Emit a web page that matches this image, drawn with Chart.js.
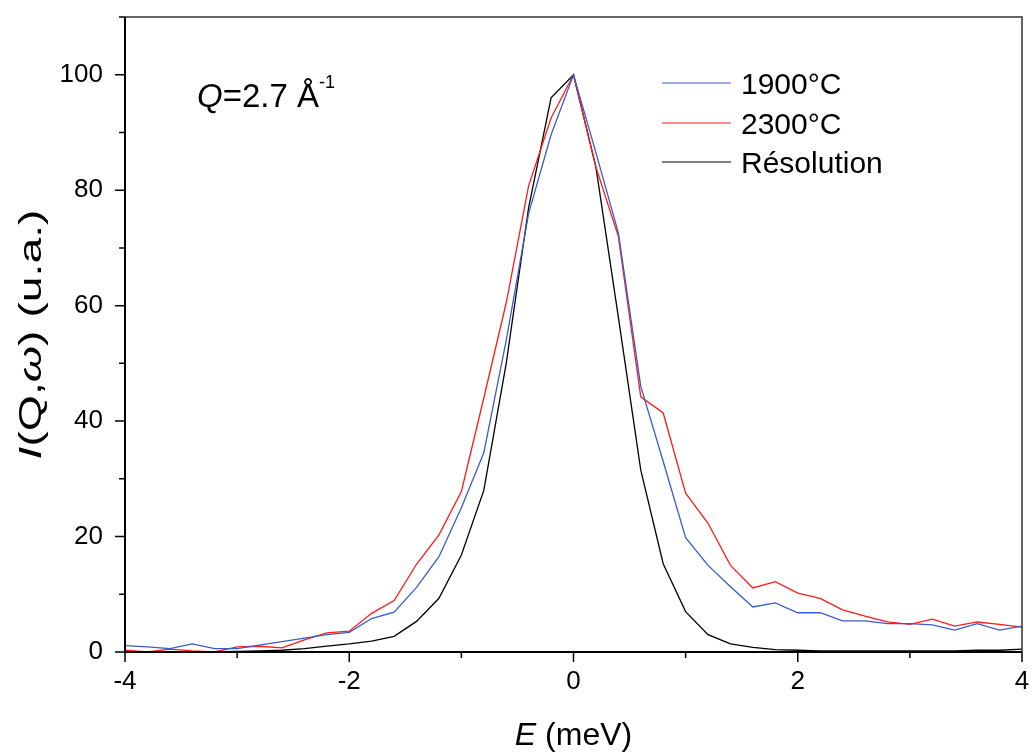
<!DOCTYPE html>
<html>
<head>
<meta charset="utf-8">
<script src="https://cdn.jsdelivr.net/npm/chart.js@4.4.1/dist/chart.umd.min.js"></script>
<style>
  html, body { margin: 0; padding: 0; background: #fff; }
  #wrap { width: 1032px; height: 752px; position: relative; }
</style>
</head>
<body>
<div id="wrap"><canvas id="chart" width="1032" height="752"></canvas></div>
<script>
// energie (meV)
const energy = [
  -4.0, -3.8, -3.6, -3.4, -3.2, -3.0, -2.8, -2.6, -2.4, -2.2,
  -2.0, -1.8, -1.6, -1.4, -1.2, -1.0, -0.8, -0.6, -0.4, -0.2,
  0.0, 0.2, 0.4, 0.6, 0.8, 1.0, 1.2, 1.4, 1.6, 1.8,
  2.0, 2.2, 2.4, 2.6, 2.8, 3.0, 3.2, 3.4, 3.6, 3.8, 4.0
];

// intensites
const i1900 = [
  1.1, 0.9, 0.6, 1.4, 0.6, 0.6, 1.2, 1.8, 2.4, 3.0,
  3.4, 5.8, 6.9, 11.2, 16.5, 25.0, 34.5, 54.0, 76.0, 89.6,
  100, 86.5, 72.6, 46.0, 33.0, 19.8, 15.0, 11.3, 7.8, 8.5,
  6.8, 6.8, 5.4, 5.4, 4.9, 4.9, 4.7, 3.8, 4.9, 3.8, 4.5
];
const i2300 = [
  0.3, 0.0, 0.5, 0.2, 0.0, 0.9, 1.0, 0.7, 2.1, 3.3,
  3.6, 6.7, 8.9, 15.2, 20.3, 27.8, 44.0, 60.5, 80.8, 92.5,
  100, 84.0, 72.0, 44.2, 41.4, 27.5, 22.3, 15.0, 11.1, 12.2,
  10.2, 9.3, 7.3, 6.2, 5.2, 4.8, 5.7, 4.5, 5.2, 4.8, 4.3
];
const resolution = [
  0.0, 0.0, 0.0, 0.0, 0.0, 0.1, 0.2, 0.3, 0.6, 1.0,
  1.4, 1.9, 2.7, 5.3, 9.3, 16.8, 28.0, 50.0, 77.0, 96.0,
  100, 84.0, 58.0, 31.5, 15.3, 7.0, 3.0, 1.4, 0.8, 0.4,
  0.3, 0.2, 0.2, 0.2, 0.2, 0.2, 0.2, 0.2, 0.3, 0.3, 0.5
];

const seriesLabels = ['1900°C', '2300°C', 'Résolution'];
const seriesColors = ['#3a5cc8', '#ff1a1a', '#000000'];

const FONT = "'Liberation Sans', Arial, sans-serif";

function toPoints(vals) {
  return energy.map((e, i) => ({ x: e, y: vals[i] }));
}

// cadre, graduations, legende, annotations
const decorPlugin = {
  id: 'decor',
  afterDraw(chart) {
    const { ctx, chartArea: a, scales } = chart;
    const xs = scales.x, ys = scales.y;
    ctx.save();

    // cadre
    ctx.strokeStyle = '#333';
    ctx.lineWidth = 1.5;
    ctx.beginPath();
    ctx.moveTo(a.left, a.top);
    ctx.lineTo(a.right, a.top);
    ctx.lineTo(a.right, a.bottom);
    ctx.stroke();
    ctx.strokeStyle = '#000';
    ctx.lineWidth = 2;
    ctx.beginPath();
    ctx.moveTo(a.left, a.top);
    ctx.lineTo(a.left, a.bottom);
    ctx.lineTo(a.right, a.bottom);
    ctx.stroke();

    // graduations (majeures / mineures)
    ctx.lineWidth = 1.5;
    ctx.beginPath();
    xs.ticks.forEach(t => {
      const px = xs.getPixelForValue(t.value);
      const len = (Math.round(t.value) % 2 === 0) ? 10 : 6;
      ctx.moveTo(px, a.bottom);
      ctx.lineTo(px, a.bottom + len);
    });
    ys.ticks.forEach(t => {
      const py = ys.getPixelForValue(t.value);
      const len = (Math.round(t.value) % 20 === 0) ? 10 : 6;
      ctx.moveTo(a.left, py);
      ctx.lineTo(a.left - len, py);
    });
    ctx.stroke();

    // legende
    ctx.lineWidth = 1.2;
    ctx.font = '30px ' + FONT;
    ctx.fillStyle = '#000';
    ctx.textAlign = 'left';
    ctx.textBaseline = 'alphabetic';
    const legY = [83, 123, 162];
    seriesLabels.forEach((lab, i) => {
      ctx.strokeStyle = seriesColors[i];
      ctx.beginPath();
      ctx.moveTo(662, legY[i]);
      ctx.lineTo(731, legY[i]);
      ctx.stroke();
      ctx.fillText(lab, 741, legY[i] + 11);
    });

    // annotation Q
    let x = 197;
    const by = 107;
    ctx.font = 'italic 33px ' + FONT;
    ctx.fillText('Q', x, by);
    x += ctx.measureText('Q').width;
    ctx.font = '33px ' + FONT;
    ctx.fillText('=2.7 Å', x, by);
    x += ctx.measureText('=2.7 Å').width;
    ctx.font = '18px ' + FONT;
    ctx.fillText('-1', x, 88);

    // titre axe x
    const xParts = [['italic', 'E'], ['', ' (meV)']];
    drawParts(ctx, xParts, 32, (a.left + a.right) / 2, 745);

    // titre axe y (etire dans le sens du texte comme l'original)
    ctx.save();
    ctx.translate(41, (a.top + a.bottom) / 2);
    ctx.rotate(-Math.PI / 2);
    ctx.scale(1.45, 1);
    const yParts = [['italic', 'I'], ['', '(Q,'], ['italic', 'ω'], ['', ') (u.a.)']];
    drawParts(ctx, yParts, 32, 0, 0);
    ctx.restore();

    ctx.restore();
  }
};

function drawParts(ctx, parts, size, cx, by) {
  let total = 0;
  parts.forEach(p => {
    ctx.font = (p[0] ? p[0] + ' ' : '') + size + 'px ' + FONT;
    total += ctx.measureText(p[1]).width;
  });
  let x = cx - total / 2;
  ctx.textAlign = 'left';
  ctx.textBaseline = 'alphabetic';
  ctx.fillStyle = '#000';
  parts.forEach(p => {
    ctx.font = (p[0] ? p[0] + ' ' : '') + size + 'px ' + FONT;
    ctx.fillText(p[1], x, by);
    x += ctx.measureText(p[1]).width;
  });
}

const ctx = document.getElementById('chart').getContext('2d');
new Chart(ctx, {
  type: 'scatter',
  data: {
    datasets: [i1900, i2300, resolution].map((vals, i) => ({
      label: seriesLabels[i],
      data: toPoints(vals),
      showLine: true,
      borderColor: seriesColors[i],
      borderWidth: 1.3,
      pointRadius: 0,
      tension: 0
    }))
  },
  options: {
    responsive: false,
    animation: false,
    layout: { padding: { top: 17, right: 10, left: 0, bottom: 0 } },
    plugins: {
      legend: { display: false },
      tooltip: { enabled: false }
    },
    scales: {
      x: {
        type: 'linear',
        min: -4,
        max: 4,
        grid: { display: false, drawTicks: false },
        border: { display: false },
        afterFit: (scale) => {
          scale.height = 100;
          scale.paddingLeft = 0;
          scale.paddingRight = 0;
        },
        ticks: {
          stepSize: 1,
          autoSkip: false,
          maxRotation: 0,
          padding: 14,
          color: '#000',
          font: { family: FONT, size: 26 },
          callback: (v) => (Math.round(v) % 2 === 0 ? String(v) : '')
        }
      },
      y: {
        min: 0,
        max: 110,
        grid: { display: false, drawTicks: false },
        border: { display: false },
        afterFit: (scale) => {
          scale.width = 125;
          scale.paddingTop = 0;
          scale.paddingBottom = 0;
        },
        ticks: {
          stepSize: 10,
          autoSkip: false,
          padding: 22,
          color: '#000',
          font: { family: FONT, size: 26 },
          callback: (v) => (v % 20 === 0 && v <= 100 ? String(v) : '')
        }
      }
    }
  },
  plugins: [decorPlugin]
});
</script>
</body>
</html>
